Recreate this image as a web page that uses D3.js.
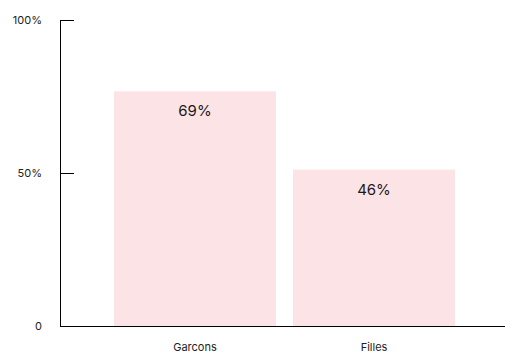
<!DOCTYPE html>
<html>
<head>
<meta charset="utf-8">
<script src="https://cdn.jsdelivr.net/npm/d3@7"></script>
<style>
  html, body { margin: 0; padding: 0; background: #fff; }
  svg { display: block; font-family: Inter, "Noto Sans", sans-serif; }
</style>
</head>
<body>
<svg id="chart" width="505" height="356"></svg>
<script>
// Share of respondents per group
const categories = ["Garcons", "Filles"];
const values = [69, 46];
const valueLabels = ["69%", "46%"];

// Axis ticks and their printed labels
const tickValues = [0, 45, 90];
const tickLabels = ["0", "50%", "100%"];

const svg = d3.select("#chart");
const axisX = 60, baseY = 326, topY = 20;

const y = d3.scaleLinear().domain([0, 90]).range([baseY, topY]);
const x = d3.scaleBand().domain(categories).range([114, 455])
  .paddingInner(0.095).paddingOuter(0);

// Bars
svg.append("g").selectAll("rect")
  .data(categories)
  .join("rect")
  .attr("x", d => x(d))
  .attr("width", x.bandwidth())
  .attr("y", (d, i) => y(values[i]))
  .attr("height", (d, i) => baseY - y(values[i]))
  .attr("fill", "#fce4e6");

// Value labels inside the bars
svg.append("g").selectAll("text")
  .data(categories)
  .join("text")
  .attr("x", d => x(d) + x.bandwidth() / 2)
  .attr("y", (d, i) => y(values[i]) + 25)
  .attr("text-anchor", "middle")
  .attr("font-size", 15)
  .attr("fill", "#1a1a1a")
  .text((d, i) => valueLabels[i]);

// Y axis with inward ticks
const yAxis = d3.axisLeft(y)
  .tickValues(tickValues)
  .tickFormat((d, i) => tickLabels[i])
  .tickSizeInner(-14)
  .tickSizeOuter(0)
  .tickPadding(18);

const gy = svg.append("g")
  .attr("transform", `translate(${axisX},0)`)
  .call(yAxis);
gy.select(".domain").attr("stroke", "#000");
gy.selectAll(".tick line").attr("stroke", "#000");
gy.selectAll(".tick text")
  .attr("font-size", 11)
  .attr("font-family", "Inter, 'Noto Sans', sans-serif")
  .attr("fill", "#222");

// X axis: category labels and baseline
const xAxis = d3.axisBottom(x).tickSize(0).tickPadding(17);
const gx = svg.append("g")
  .attr("transform", `translate(0,${baseY})`)
  .call(xAxis);
gx.select(".domain").remove();
gx.selectAll(".tick text")
  .attr("font-size", 11)
  .attr("font-family", "Inter, 'Noto Sans', sans-serif")
  .attr("fill", "#222");

svg.append("line")
  .attr("x1", axisX).attr("x2", 505)
  .attr("y1", baseY + 0.5).attr("y2", baseY + 0.5)
  .attr("stroke", "#000");
</script>
</body>
</html>
